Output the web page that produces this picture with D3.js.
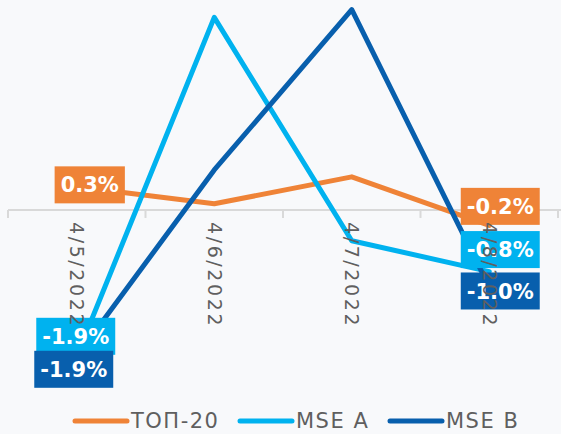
<!DOCTYPE html>
<html>
<head>
<meta charset="utf-8">
<script src="https://cdn.jsdelivr.net/npm/d3@7"></script>
<style>
  body { margin: 0; background: #f8f9fb; }
  svg { display: block; font-family: "DejaVu Sans", "Noto Sans", sans-serif; }
</style>
</head>
<body>
<div id="chart"></div>
<script>
// Chart data
const categories = ["4/5/2022", "4/6/2022", "4/7/2022", "4/8/2022"];
const seriesNames = ["ТОП-20", "MSE A", "MSE B"];
const top20 = [0.3, 0.08, 0.43, -0.2];
const mseA = [-1.9, 2.5, -0.4, -0.8];
const mseB = [-1.9, 0.52, 2.6, -1.0];

const colors = ["#ef8337", "#00b2ef", "#085fad"];
const allSeries = [top20, mseA, mseB];

const width = 561, height = 434;

const svg = d3.select("#chart")
  .append("svg")
  .attr("width", width)
  .attr("height", height);

svg.append("rect")
  .attr("width", width)
  .attr("height", height)
  .attr("fill", "#f8f9fb");

// Scales
const x = d3.scaleBand()
  .domain(categories)
  .range([8, 558]);

const y = d3.scaleLinear()
  .domain([-2, 2.7])
  .range([364, 2]);

const cx = d => x(d) + x.bandwidth() / 2;

// Axis line at zero with ticks between categories
const axis = svg.append("g")
  .attr("transform", `translate(0,${y(0)})`);

axis.append("line")
  .attr("x1", 8).attr("x2", width)
  .attr("stroke", "#d9d9d9").attr("stroke-width", 2);

const tickPos = categories.map(c => x(c)).concat([x.range()[1]]);
axis.selectAll(".tick")
  .data(tickPos)
  .enter()
  .append("line")
  .attr("x1", d => d).attr("x2", d => d)
  .attr("y1", 0).attr("y2", 8)
  .attr("stroke", "#d9d9d9").attr("stroke-width", 2);

// Lines
const line = d3.line()
  .x((d, i) => cx(categories[i]))
  .y(d => y(d));

allSeries.forEach((s, k) => {
  svg.append("path")
    .datum(s)
    .attr("d", line)
    .attr("fill", "none")
    .attr("stroke", colors[k])
    .attr("stroke-width", 5)
    .attr("stroke-linejoin", "round")
    .attr("stroke-linecap", "round");
});

// Data labels at first and last points (offsets from the point)
const labels = [
  { s: 0, i: 0, dx: 13, dy: -2 },
  { s: 0, i: 3, dx: 11, dy: -19 },
  { s: 1, i: 0, dx: -1, dy: -20 },
  { s: 1, i: 3, dx: 11, dy: -22 },
  { s: 2, i: 0, dx: -3, dy: 13 },
  { s: 2, i: 3, dx: 11, dy: 4 }
];

const fmt = v => v.toFixed(1) + "%";

labels.forEach(l => {
  const v = allSeries[l.s][l.i];
  const px = cx(categories[l.i]) + l.dx;
  const py = y(v) + l.dy;
  const g = svg.append("g").attr("transform", `translate(${px},${py})`);
  const t = g.append("text")
    .attr("text-anchor", "middle")
    .attr("dy", "0.36em")
    .attr("fill", "#fff")
    .attr("font-size", 21)
    .attr("font-weight", "bold")
    .text(fmt(v));
  const w = t.node().getComputedTextLength() + 12;
  g.insert("rect", "text")
    .attr("x", -w / 2).attr("y", -18.5)
    .attr("width", w).attr("height", 37)
    .attr("fill", colors[l.s]);
});

// Category labels, rotated, drawn on top
svg.selectAll(".cat")
  .data(categories)
  .enter()
  .append("text")
  .attr("transform", d => `translate(${cx(d)},${y(0) + 12}) rotate(90)`)
  .attr("dy", "0.35em")
  .attr("fill", "#5f5f5f")
  .attr("font-size", 19)
  .attr("letter-spacing", 2.6)
  .text(d => d);

// Legend
const legendX = [73, 238, 388];
const legend = svg.selectAll(".legend")
  .data(seriesNames)
  .enter()
  .append("g")
  .attr("transform", (d, i) => `translate(${legendX[i]},421)`);

legend.append("line")
  .attr("x1", 2).attr("x2", 54)
  .attr("stroke", (d, i) => colors[i])
  .attr("stroke-width", 5)
  .attr("stroke-linecap", "round");

legend.append("text")
  .attr("x", 58)
  .attr("dy", "0.35em")
  .attr("fill", "#5f5f5f")
  .attr("font-size", 21)
  .attr("letter-spacing", 1.5)
  .text(d => d);
</script>
</body>
</html>
